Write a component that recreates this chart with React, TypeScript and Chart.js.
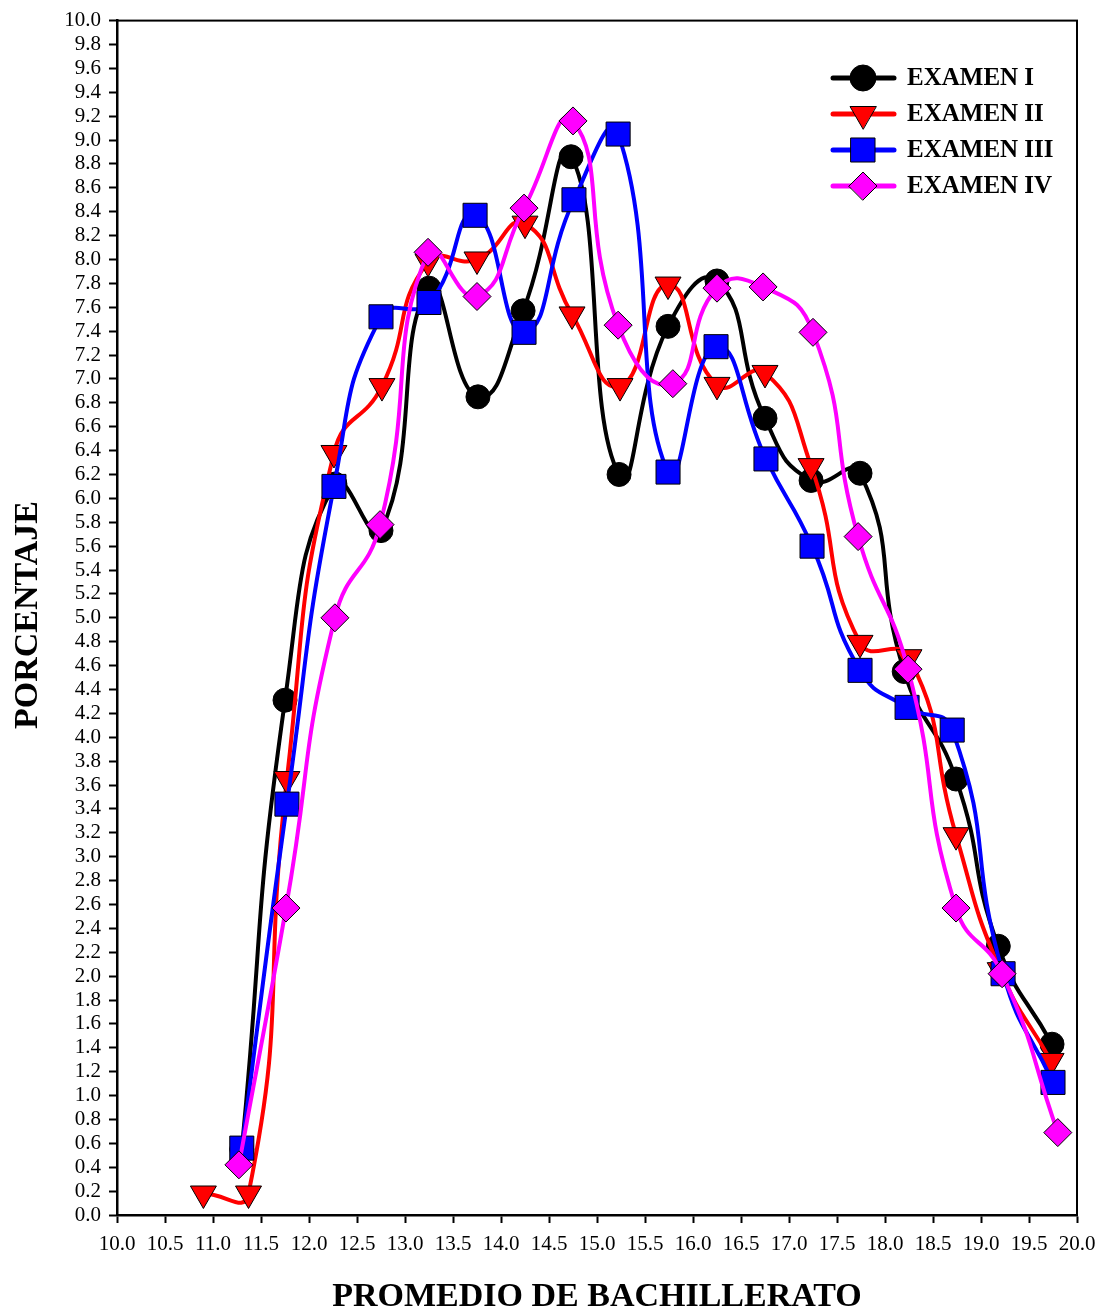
import { useEffect, useRef } from "react";
import { Chart, registerables } from "chart.js";

Chart.register(...registerables);

const SERIES_NAMES = ["EXAMEN I", "EXAMEN II", "EXAMEN III", "EXAMEN IV"];

const examen1X = [11.3, 11.75, 12.27, 12.75, 13.25, 13.76, 14.23, 14.73, 15.23, 15.74, 16.25, 16.75, 17.23, 17.74, 18.2, 18.74, 19.18, 19.74];
const examen1Y = [0.55, 4.31, 6.12, 5.73, 7.76, 6.85, 7.57, 8.86, 6.2, 7.44, 7.82, 6.67, 6.15, 6.21, 4.55, 3.65, 2.25, 1.43];

const examen2X = [10.9, 11.37, 11.77, 12.26, 12.76, 13.24, 13.75, 14.25, 14.74, 15.24, 15.74, 16.25, 16.75, 17.23, 17.74, 18.25, 18.74, 19.2, 19.73];
const examen2Y = [0.18, 0.18, 3.65, 6.38, 6.94, 7.98, 8.0, 8.3, 7.54, 6.94, 7.79, 6.95, 7.05, 6.27, 4.79, 4.67, 3.18, 2.05, 1.29];

const examen3X = [11.3, 11.77, 12.26, 12.75, 13.25, 13.73, 14.24, 14.76, 15.22, 15.74, 16.24, 16.76, 17.24, 17.74, 18.23, 18.7, 19.23, 19.75];
const examen3Y = [0.56, 3.44, 6.1, 7.52, 7.64, 8.37, 7.39, 8.5, 9.05, 6.22, 7.27, 6.33, 5.6, 4.56, 4.25, 4.06, 2.02, 1.11];

const examen4X = [11.27, 11.76, 12.27, 12.74, 13.24, 13.75, 14.24, 14.75, 15.22, 15.79, 16.25, 16.73, 17.25, 17.72, 18.24, 18.74, 19.22, 19.8];
const examen4Y = [0.42, 2.57, 5.0, 5.78, 8.06, 7.69, 8.43, 9.16, 7.45, 6.96, 7.76, 7.77, 7.39, 5.68, 4.57, 2.57, 2.02, 0.69];

const X_MIN = 10.0;
const X_MAX = 20.0;
const X_STEP = 0.5;
const Y_MIN = 0.0;
const Y_MAX = 10.0;
const Y_STEP = 0.2;

const X_TITLE = "PROMEDIO DE BACHILLERATO";
const Y_TITLE = "PORCENTAJE";

const COLORS = ["#000000", "#ff0000", "#0000ff", "#ff00ff"];
const STYLES = ["circle", "triangle", "rect", "rectRot"];
const RADII = [12, 15, 17, 14];
const ROTATIONS = [0, 180, 0, 0];

const FONT = '"Liberation Serif", "Times New Roman", serif';

function toPoints(xs: number[], ys: number[]) {
  return xs.map((x, i) => ({ x, y: ys[i] }));
}

function drawMarker(ctx: CanvasRenderingContext2D, i: number, x: number, y: number) {
  ctx.beginPath();
  const r = RADII[i];
  if (i === 0) {
    ctx.arc(x, y, r + 1, 0, Math.PI * 2);
  } else if (i === 1) {
    ctx.moveTo(x, y + r);
    ctx.lineTo(x - r * 0.866, y - r / 2);
    ctx.lineTo(x + r * 0.866, y - r / 2);
    ctx.closePath();
  } else if (i === 2) {
    const s = r * Math.SQRT1_2;
    ctx.rect(x - s, y - s, 2 * s, 2 * s);
  } else {
    ctx.moveTo(x - r, y);
    ctx.lineTo(x, y - r);
    ctx.lineTo(x + r, y);
    ctx.lineTo(x, y + r);
    ctx.closePath();
  }
  ctx.fillStyle = COLORS[i];
  ctx.fill();
  ctx.lineWidth = 1;
  ctx.strokeStyle = "#000";
  ctx.stroke();
}

const decorPlugin = {
  id: "decor",
  afterDraw(chart: any) {
    const { ctx, chartArea: a } = chart;
    ctx.save();
    ctx.strokeStyle = "#000";
    ctx.lineWidth = 2;
    ctx.strokeRect(a.left, a.top, a.right - a.left, a.bottom - a.top);

    ctx.fillStyle = "#000";
    ctx.font = `bold 34px ${FONT}`;
    ctx.textAlign = "center";
    ctx.textBaseline = "middle";
    ctx.fillText(X_TITLE, 597, 1297);
    ctx.save();
    ctx.translate(28, 615);
    ctx.rotate(-Math.PI / 2);
    ctx.fillText(Y_TITLE, 0, 0);
    ctx.restore();

    // legend
    const rowY = [78, 114, 150, 186];
    for (let i = 0; i < 4; i++) {
      const y = rowY[i];
      ctx.beginPath();
      ctx.moveTo(833, y);
      ctx.lineTo(894, y);
      ctx.strokeStyle = COLORS[i];
      ctx.lineWidth = 5;
      ctx.lineCap = "round";
      ctx.stroke();
      drawMarker(ctx, i, 863, y);
      ctx.fillStyle = "#000";
      ctx.font = `bold 25px ${FONT}`;
      ctx.textAlign = "left";
      ctx.textBaseline = "middle";
      ctx.fillText(SERIES_NAMES[i], 907, y + 1);
    }
    ctx.restore();
  },
};

export default function App() {
  const canvasRef = useRef<HTMLCanvasElement | null>(null);

  useEffect(() => {
    const canvas = canvasRef.current;
    if (!canvas) return;
    Chart.defaults.font.family = FONT;
    const xs = [examen1X, examen2X, examen3X, examen4X];
    const ys = [examen1Y, examen2Y, examen3Y, examen4Y];
    const datasets = SERIES_NAMES.map((name, i) => ({
      label: name,
      data: toPoints(xs[i], ys[i]),
      borderColor: COLORS[i],
      backgroundColor: COLORS[i],
      borderWidth: 4,
      tension: 0.52,
      pointStyle: STYLES[i],
      pointRadius: RADII[i],
      pointRotation: ROTATIONS[i],
      pointBackgroundColor: COLORS[i],
      pointBorderColor: "#000",
      pointBorderWidth: 1,
      pointHoverRadius: RADII[i],
      order: 3 - i,
      fill: false,
    }));

    const chart = new Chart(canvas, {
      type: "line",
      data: { datasets },
      options: {
        responsive: false,
        animation: false,
        devicePixelRatio: 1,
        events: [],
        layout: { padding: { top: 15, right: 28, left: 0, bottom: 0 } },
        plugins: {
          legend: { display: false },
          tooltip: { enabled: false },
        },
        scales: {
          x: {
            type: "linear",
            min: X_MIN,
            max: X_MAX,
            ticks: {
              stepSize: X_STEP,
              autoSkip: false,
              maxRotation: 0,
              padding: 9,
              color: "#000",
              font: { size: 21, family: FONT },
              callback: (v: any) => Number(v).toFixed(1),
            },
            grid: {
              drawOnChartArea: false,
              drawTicks: true,
              tickLength: 8,
              tickWidth: 2,
              tickColor: "#000",
            },
            border: { color: "#000", width: 2.5 },
            afterFit: (s: any) => {
              s.height = 97;
            },
          },
          y: {
            type: "linear",
            min: Y_MIN,
            max: Y_MAX,
            ticks: {
              stepSize: Y_STEP,
              autoSkip: false,
              padding: 8,
              color: "#000",
              font: { size: 21, family: FONT },
              callback: (v: any) => Number(v).toFixed(1),
            },
            grid: {
              drawOnChartArea: false,
              drawTicks: true,
              tickLength: 8,
              tickWidth: 2,
              tickColor: "#000",
            },
            border: { color: "#000", width: 2.5 },
            afterFit: (s: any) => {
              s.width = 117;
            },
          },
        },
      },
      plugins: [decorPlugin],
    });
    return () => chart.destroy();
  }, []);

  return (
    <div style={{ position: "absolute", left: 0, top: 0, width: 1105, height: 1312, background: "#fff" }}>
      <canvas ref={canvasRef} width={1105} height={1312} style={{ display: "block" }} />
    </div>
  );
}
